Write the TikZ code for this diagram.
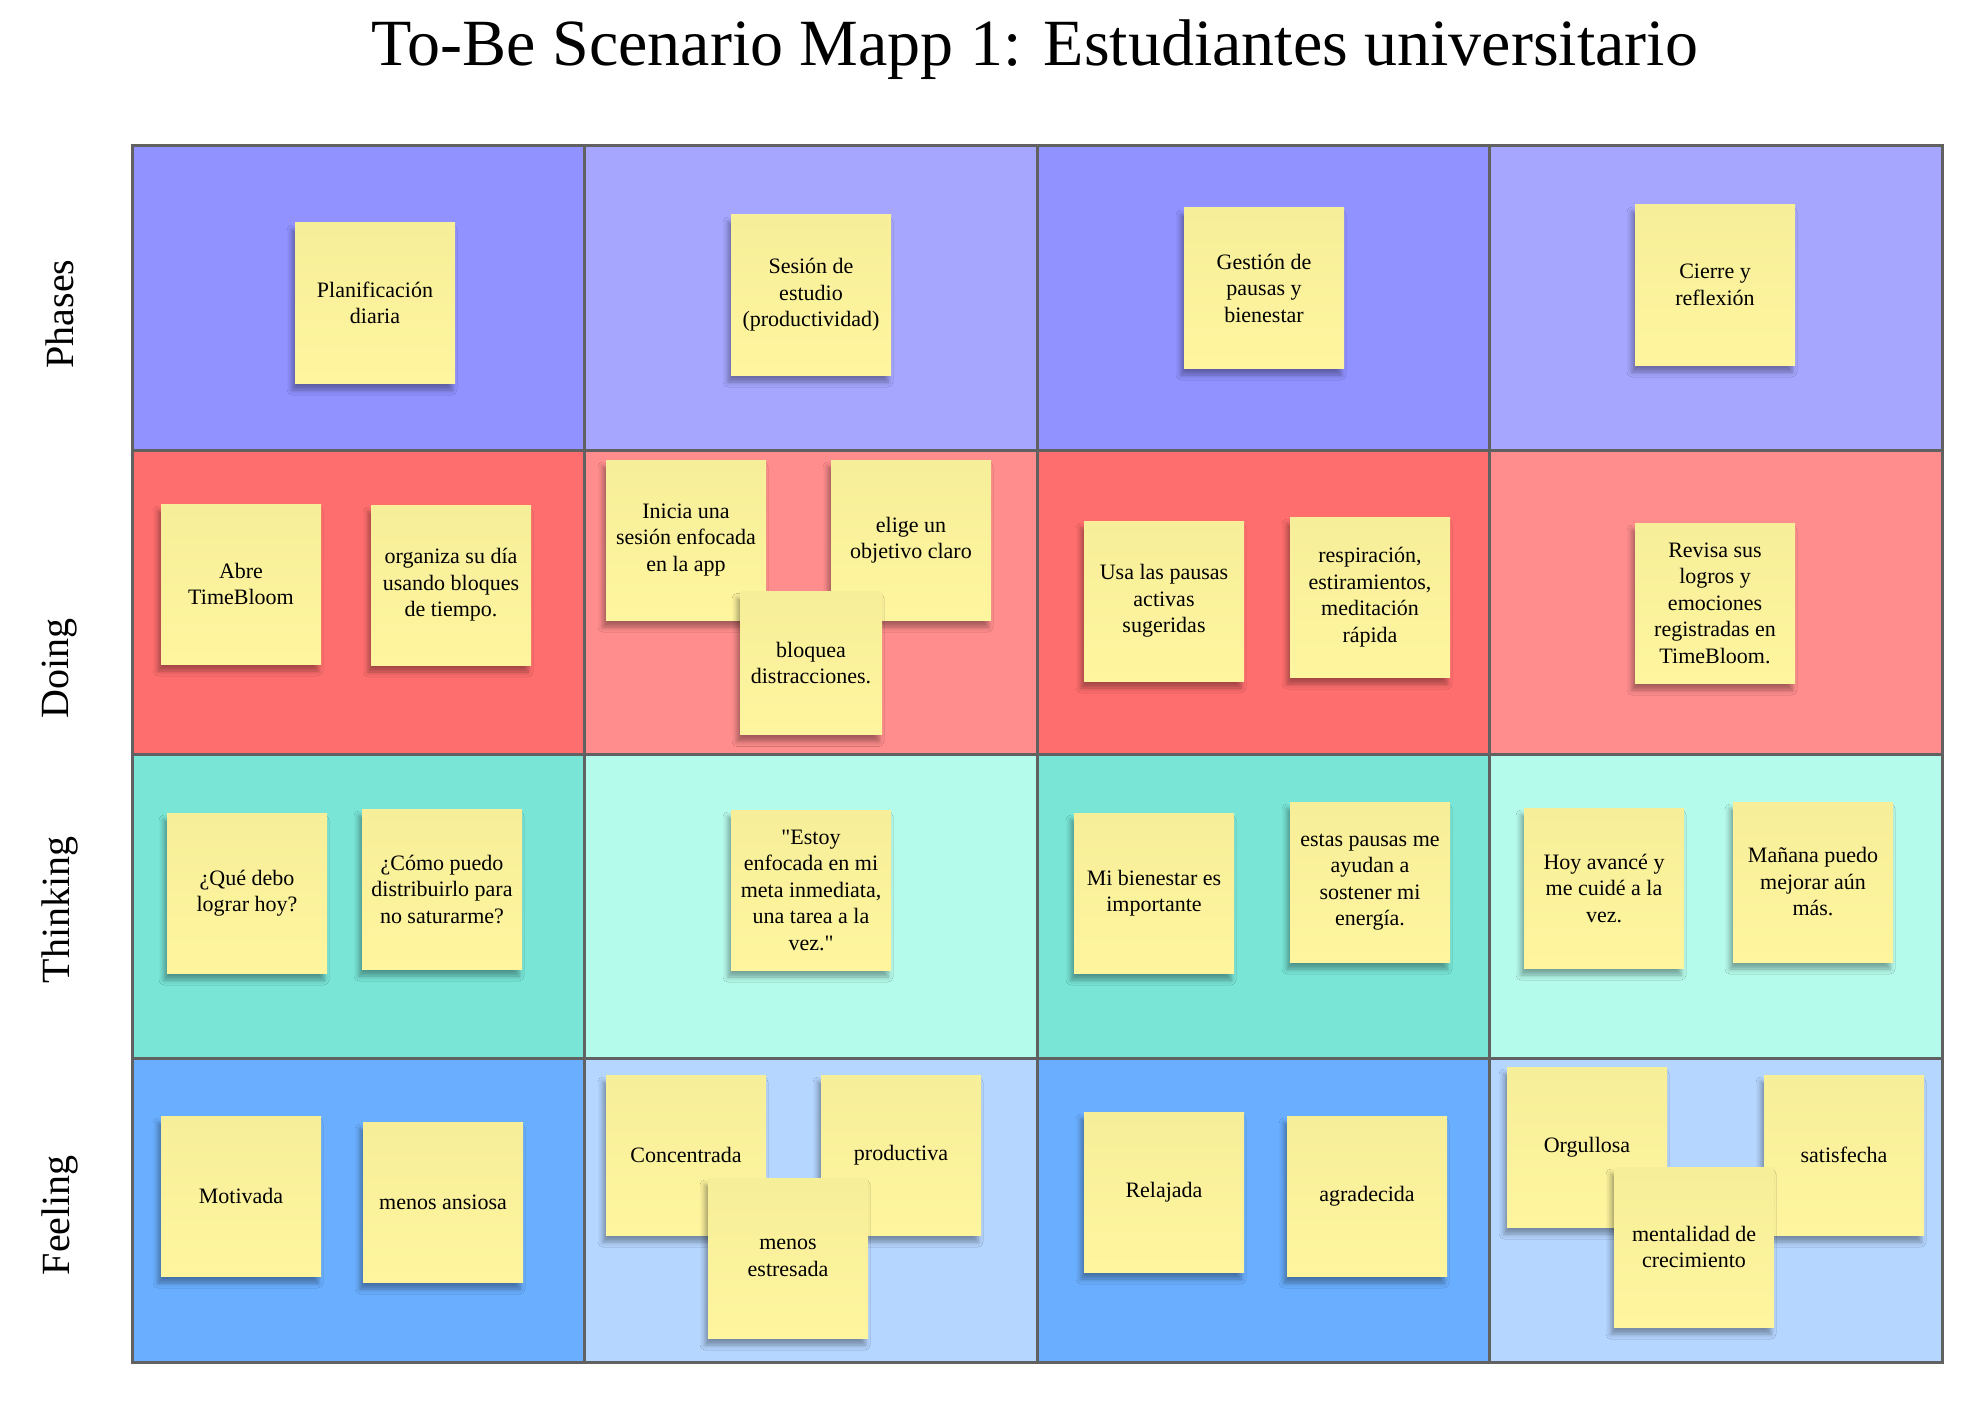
\documentclass[tikz,border=0pt]{standalone}
\usepackage{fontspec}
\setmainfont{Liberation Serif}
\usetikzlibrary{shadows.blur}

% lane colours: darker for odd columns, lighter for even columns
\definecolor{phA}{HTML}{9191FF}
\definecolor{phB}{HTML}{A6A6FF}
\definecolor{doA}{HTML}{FF6E6E}
\definecolor{doB}{HTML}{FF8D8D}
\definecolor{thA}{HTML}{78E5D6}
\definecolor{thB}{HTML}{B5FBEB}
\definecolor{feA}{HTML}{6AAFFF}
\definecolor{feB}{HTML}{B5D6FF}
\definecolor{gridline}{HTML}{616161}
\definecolor{stickybase}{HTML}{FFF59F}
\definecolor{stickytop}{HTML}{F7EE99}

\begin{document}
\begin{tikzpicture}[x=1pt,y=-1pt,
  cell/.style={draw=none},
  sticky/.style={draw=none, top color=stickytop, middle color=stickybase,
    bottom color=stickybase, minimum width=160pt, minimum height=160pt,
    inner sep=4pt, align=center, font=\fontsize{22}{26.5}\selectfont,
    blur shadow={shadow xshift=-3pt, shadow yshift=-7pt,
      shadow blur radius=5pt, shadow opacity=35}},
  smallsticky/.style={sticky, minimum width=142pt, minimum height=143pt},
  rowlabel/.style={rotate=90, font=\fontsize{40}{48}\selectfont, inner sep=0pt},
  titletext/.style={font=\fontsize{66}{78}\selectfont, inner sep=0pt},
]
\useasboundingbox (0,0) rectangle (1988,1420);
\fill[white] (0,0) rectangle (1988,1420);

% title
\node[titletext, anchor=base] (title) at (1035,66) {To-Be Scenario Mapp 1: Estudiantes universitario};

% lane backgrounds
\fill[phA] (132,146)    rectangle (584.5,450);
\fill[phB] (584.5,146)  rectangle (1037,450);
\fill[phA] (1037,146)   rectangle (1489.5,450);
\fill[phB] (1489.5,146) rectangle (1942,450);
\fill[doA] (132,450)    rectangle (584.5,754);
\fill[doB] (584.5,450)  rectangle (1037,754);
\fill[doA] (1037,450)   rectangle (1489.5,754);
\fill[doB] (1489.5,450) rectangle (1942,754);
\fill[thA] (132,754)    rectangle (584.5,1058);
\fill[thB] (584.5,754)  rectangle (1037,1058);
\fill[thA] (1037,754)   rectangle (1489.5,1058);
\fill[thB] (1489.5,754) rectangle (1942,1058);
\fill[feA] (132,1058)    rectangle (584.5,1362);
\fill[feB] (584.5,1058)  rectangle (1037,1362);
\fill[feA] (1037,1058)   rectangle (1489.5,1362);
\fill[feB] (1489.5,1058) rectangle (1942,1362);

% grid lines
\draw[gridline, line width=3pt] (132,146) rectangle (1942,1362);
\foreach \gx in {584.5,1037,1489.5}
  \draw[gridline, line width=3pt] (\gx,146) -- (\gx,1362);
\foreach \gy in {450,754,1058}
  \draw[gridline, line width=3pt] (132,\gy) -- (1942,\gy);

% row labels
\node[rowlabel] (lphases)   at (60,314)  {Phases};
\node[rowlabel] (ldoing)    at (60,668)  {Doing};
\node[rowlabel] (lthinking) at (60,910)  {Thinking};
\node[rowlabel] (lfeeling)  at (60,1215) {Feeling};

% phases
\node[sticky] (p1) at (375,303)  {Planificación\\diaria};
\node[sticky] (p2) at (811,295)  {Sesión de\\estudio\\(productividad)};
\node[sticky] (p3) at (1264,288) {Gestión de\\pausas y\\bienestar};
\node[sticky] (p4) at (1715,285) {Cierre y\\reflexión};

% doing
\node[sticky] (d1) at (241,584)  {Abre\\TimeBloom};
\node[sticky] (d2) at (451,585)  {organiza su día\\usando bloques\\de tiempo.};
\node[sticky] (d3) at (686,540)  {Inicia una\\sesión enfocada\\en la app};
\node[sticky] (d4) at (911,540)  {elige un\\objetivo claro};
\node[smallsticky] (d5) at (811,663) {bloquea\\distracciones.};
\node[sticky] (d6) at (1164,601) {Usa las pausas\\activas\\sugeridas};
\node[sticky] (d7) at (1370,597) {respiración,\\estiramientos,\\meditación\\rápida};
\node[sticky] (d8) at (1715,603) {Revisa sus\\logros y\\emociones\\registradas en\\TimeBloom.};

% thinking
\node[sticky] (t1) at (247,893)  {¿Qué debo\\lograr hoy?};
\node[sticky] (t2) at (442,889)  {¿Cómo puedo\\distribuirlo para\\no saturarme?};
\node[sticky] (t3) at (811,890)  {\textquotedbl Estoy\\enfocada en mi\\meta inmediata,\\una tarea a la\\vez.\textquotedbl};
\node[sticky] (t4) at (1154,893) {Mi bienestar es\\importante};
\node[sticky] (t5) at (1370,882) {estas pausas me\\ayudan a\\sostener mi\\energía.};
\node[sticky] (t6) at (1604,888) {Hoy avancé y\\me cuidé a la\\vez.};
\node[sticky] (t7) at (1813,882) {Mañana puedo\\mejorar aún\\más.};

% feeling
\node[sticky] (f1) at (241,1196)  {Motivada};
\node[sticky] (f2) at (443,1202)  {menos ansiosa};
\node[sticky] (f3) at (686,1155)  {Concentrada};
\node[sticky] (f4) at (901,1155)  {productiva};
\node[sticky] (f5) at (788,1258)  {menos\\estresada};
\node[sticky] (f6) at (1164,1192) {Relajada};
\node[sticky] (f7) at (1367,1196) {agradecida};
\node[sticky] (f8) at (1587,1147) {Orgullosa};
\node[sticky] (f9) at (1844,1155) {satisfecha};
\node[sticky] (f10) at (1694,1247) {mentalidad de\\crecimiento};
\end{tikzpicture}
\end{document}
